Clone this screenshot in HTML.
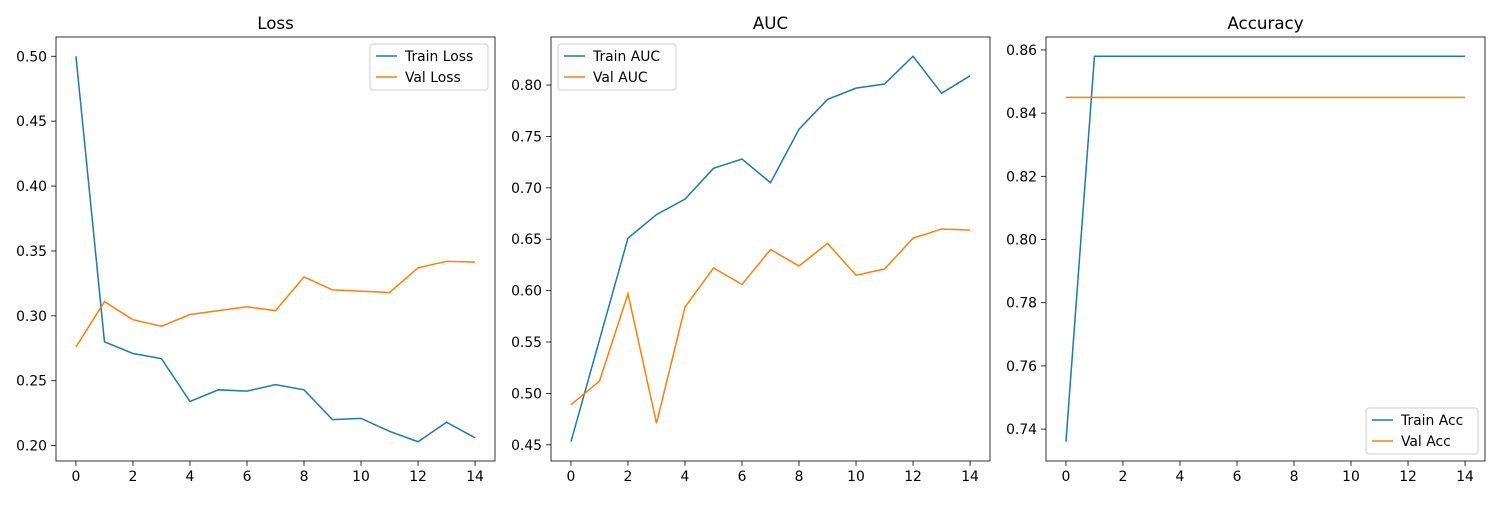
<!DOCTYPE html>
<html><head><meta charset="utf-8"><style>
body{margin:0;background:#fff;}
svg{font-family:"DejaVu Sans","Liberation Sans",sans-serif;}
</style></head><body>
<svg id="c" width="1500" height="500" xmlns="http://www.w3.org/2000/svg"></svg>
<script>
const epochs=[0,1,2,3,4,5,6,7,8,9,10,11,12,13,14];
const trainLoss=[0.5,0.280,0.271,0.267,0.234,0.243,0.242,0.247,0.243,0.220,0.221,0.211,0.203,0.218,0.206];
const valLoss=[0.276,0.311,0.297,0.292,0.301,0.304,0.307,0.304,0.330,0.320,0.319,0.318,0.337,0.342,0.3415];
const trainAuc=[0.453,0.552,0.651,0.674,0.689,0.719,0.728,0.705,0.757,0.786,0.797,0.801,0.828,0.792,0.809];
const valAuc=[0.489,0.512,0.597,0.471,0.584,0.622,0.606,0.640,0.624,0.646,0.615,0.621,0.651,0.660,0.659];
const trainAcc=[0.736,0.858,0.858,0.858,0.858,0.858,0.858,0.858,0.858,0.858,0.858,0.858,0.858,0.858,0.858];
const valAcc=[0.845,0.845,0.845,0.845,0.845,0.845,0.845,0.845,0.845,0.845,0.845,0.845,0.845,0.845,0.845];
const xTicks=[0,2,4,6,8,10,12,14];
const lossTicks=[0.20,0.25,0.30,0.35,0.40,0.45,0.50];
const aucTicks=[0.45,0.50,0.55,0.60,0.65,0.70,0.75,0.80];
const accTicks=[0.74,0.76,0.78,0.80,0.82,0.84,0.86];

const svg=document.getElementById('c');
const NS='http://www.w3.org/2000/svg';
function mk(t,a,p){const e=document.createElementNS(NS,t);for(const k in a)e.setAttribute(k,a[k]);(p||svg).appendChild(e);return e;}
const T=37,B=461;
function panel(name,left,right,title,series,names,yticks,legendPos,lw){
  const g=mk('g',{});
  
  
  const all=series.flat();const mn=Math.min(...all),mx=Math.max(...all);const pad=(mx-mn)*0.05;
  const y0=mn-pad,y1=mx+pad;
  const xs=v=>left+(v+0.7)/15.4*(right-left);
  const ys=v=>B-(v-y0)/(y1-y0)*(B-T);
  const colors=['#1f77b4','#ff7f0e'];
  series.forEach((s,i)=>{
    const p=mk('polyline',{points:s.map((v,j)=>xs(epochs[j])+','+ys(v)).join(' '),fill:'none',stroke:colors[i],'stroke-width':1.5},g);
    
    
  });
  const fr=mk('rect',{x:left,y:T,width:right-left,height:B-T,fill:'none',stroke:'#000','stroke-width':0.8},g);
  
  
  xTicks.forEach(v=>{const x=xs(v);mk('line',{x1:x,x2:x,y1:B,y2:B+4.9,stroke:'#000','stroke-width':0.8},g);
    const t=mk('text',{x:x,y:B+20,'font-size':13.9,'text-anchor':'middle'},g);t.textContent=v;
    });
  yticks.forEach(v=>{const y=ys(v);mk('line',{x1:left-4.9,x2:left,y1:y,y2:y,stroke:'#000','stroke-width':0.8},g);
    const t=mk('text',{x:left-9,y:y+5,'font-size':13.9,'text-anchor':'end'},g);t.textContent=v.toFixed(2);
    });
  const tt=mk('text',{x:(left+right)/2,y:T-8,'font-size':16.7,'text-anchor':'middle'},g);tt.textContent=title;
  
  const lh=46;
  let lx,ly;
  if(legendPos==='ur'){lx=right-lw-7;ly=T+7;}else if(legendPos==='ul'){lx=left+7;ly=T+7;}else{lx=right-lw-7;ly=B-lh-7;}
  const lg=mk('g',{},g);
  
  mk('rect',{x:lx,y:ly,width:lw,height:lh,rx:3,fill:'#fff','fill-opacity':0.8,stroke:'#ccc'},lg);
  names.forEach((n,i)=>{const yy=ly+12+i*21;
    mk('line',{x1:lx+6,x2:lx+27,y1:yy,y2:yy,stroke:colors[i],'stroke-width':1.5},lg);
    const t=mk('text',{x:lx+35,y:yy+5,'font-size':13.9},lg);t.textContent=n;
    });
}
panel('loss',56,495,'Loss',[trainLoss,valLoss],['Train Loss','Val Loss'],lossTicks,'ur',118);
panel('auc',551,990,'AUC',[trainAuc,valAuc],['Train AUC','Val AUC'],aucTicks,'ul',118);
panel('accuracy',1046,1485,'Accuracy',[trainAcc,valAcc],['Train Acc','Val Acc'],accTicks,'lr',112);
</script>
</body></html>
